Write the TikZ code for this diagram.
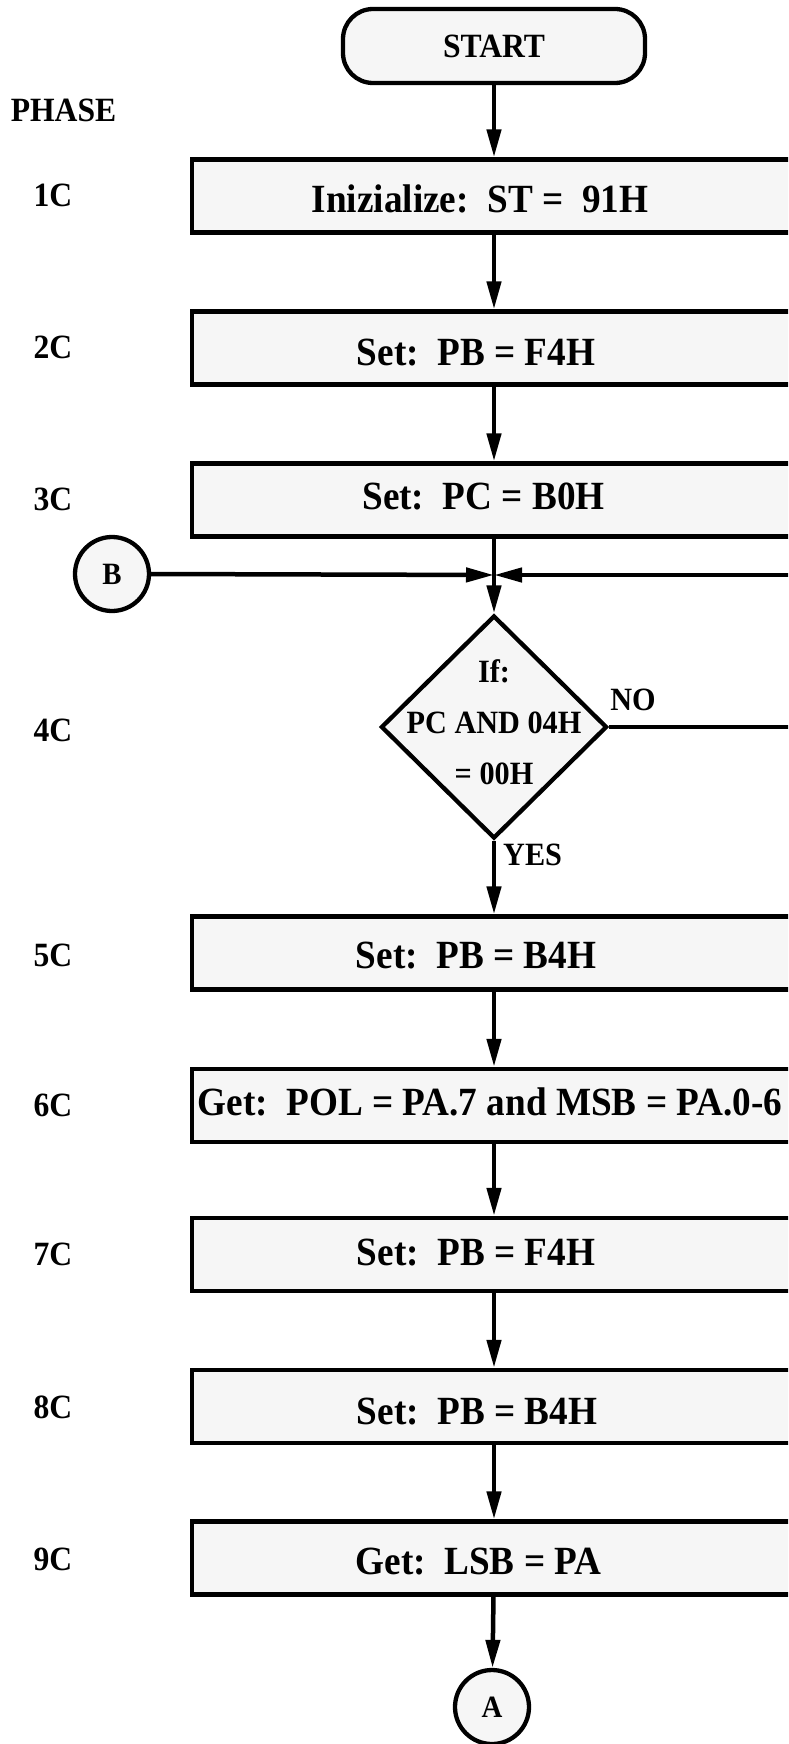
\documentclass[tikz,border=0pt]{standalone}
\usepackage{fontspec}
\setmainfont{Liberation Serif}
\newfontfamily\tf[FakeStretch=0.93]{Liberation Serif}
\usetikzlibrary{arrows.meta,shapes.geometric}
\definecolor{boxfill}{HTML}{F6F6F6}
\tikzset{
  stepbox/.style={draw, line width=4.3pt, fill=boxfill, rectangle, minimum width=604pt, minimum height=73pt, inner sep=0pt},
  steptext/.style={anchor=base, inner sep=0pt, font=\tf\fontsize{40}{44}\selectfont\bfseries},
  termbox/.style={draw, line width=4.3pt, fill=boxfill, rectangle, rounded corners=30pt, minimum width=302pt, minimum height=74pt, inner sep=0pt, font=\tf\fontsize{34}{36}\selectfont\bfseries},
  decbox/.style={draw, line width=4.3pt, fill=boxfill, diamond, minimum width=226pt, minimum height=223pt, inner sep=0pt},
  dectext/.style={align=center, inner sep=0pt, font=\tf\fontsize{32.5}{51}\selectfont\bfseries},
  conn/.style={draw, line width=4.3pt, fill=boxfill, circle, minimum size=74pt, inner sep=0pt, font=\tf\fontsize{31}{32}\selectfont\bfseries},
  phaselbl/.style={inner sep=0pt, font=\tf\fontsize{34}{36}\selectfont\bfseries},
  arr/.style={line width=4.5pt, -{Triangle[length=28pt,width=14pt]}},
}
\begin{document}
\begin{tikzpicture}[x=1pt,y=-1pt]
\useasboundingbox (0,0) rectangle (788,1744);
\clip (0,0) rectangle (788,1744);
\fill[white] (0,0) rectangle (788,1744);

\node[termbox] (start) at (494,46) {START};
\node[stepbox] (b1) at (494,196) {};
\node[steptext] (t1) at (480,213) {Inizialize:\ \ ST = \ 91H};
\node[stepbox] (b2) at (494,348) {};
\node[steptext] (t2) at (476,365) {Set:\ \ PB = F4H};
\node[stepbox] (b3) at (494,500) {};
\node[steptext] (t3) at (483.5,509) {Set:\ \ PC = B0H};
\coordinate (j) at (494,575);
\node[conn] (B) at (112,574) {B};
\node[decbox] (dia) at (494,727) {};
\node[dectext] (diat) at (494,722) {If:\\PC AND 04H\\= 00H};
\node[stepbox] (b5) at (494,953) {};
\node[steptext] (t5) at (476,968) {Set:\ \ PB = B4H};
\node[stepbox] (b6) at (494,1105.5) {};
\node[steptext] (t6) at (490,1115.5) {Get:\ \ POL = PA.7 and MSB = PA.0-6};
\node[stepbox] (b7) at (494,1254.5) {};
\node[steptext] (t7) at (476,1265) {Set:\ \ PB = F4H};
\node[stepbox] (b8) at (494,1406.5) {};
\node[steptext] (t8) at (477,1424) {Set:\ \ PB = B4H};
\node[stepbox] (b9) at (494,1558) {};
\node[steptext] (t9) at (478.5,1574) {Get:\ \ LSB = PA};
\node[conn] (A) at (492,1707) {A};
\coordinate (rt) at (830,727);

\node[phaselbl] (ph) at (63.5,110) {PHASE};
\node[phaselbl] (l1) at (53,195) {1C};
\node[phaselbl] (l2) at (53,347) {2C};
\node[phaselbl] (l3) at (53,499) {3C};
\node[phaselbl] (l4) at (53,730) {4C};
\node[phaselbl] (l5) at (53,955) {5C};
\node[phaselbl] (l6) at (53,1105) {6C};
\node[phaselbl] (l7) at (53,1254) {7C};
\node[phaselbl] (l8) at (53,1407) {8C};
\node[phaselbl] (l9) at (53,1559) {9C};
\node[dectext] (no) at (633,700) {NO};
\node[dectext, anchor=west] (yes) at (503,855) {YES};

\draw[arr] (start) -- (b1);
\draw[arr] (b1) -- (b2);
\draw[arr] (b2) -- (b3);
\draw[arr] (b3.south) -- (dia.north);
\draw[arr] (B.east) -- (j);
\draw[arr] (dia.east) -- (rt) |- (j);
\draw[arr] (dia.south) -- (b5.north);
\draw[arr] (b5) -- (b6);
\draw[arr] (b6) -- (b7);
\draw[arr] (b7) -- (b8);
\draw[arr] (b8) -- (b9);
\draw[arr] (b9) -- (A);
\end{tikzpicture}
\end{document}
